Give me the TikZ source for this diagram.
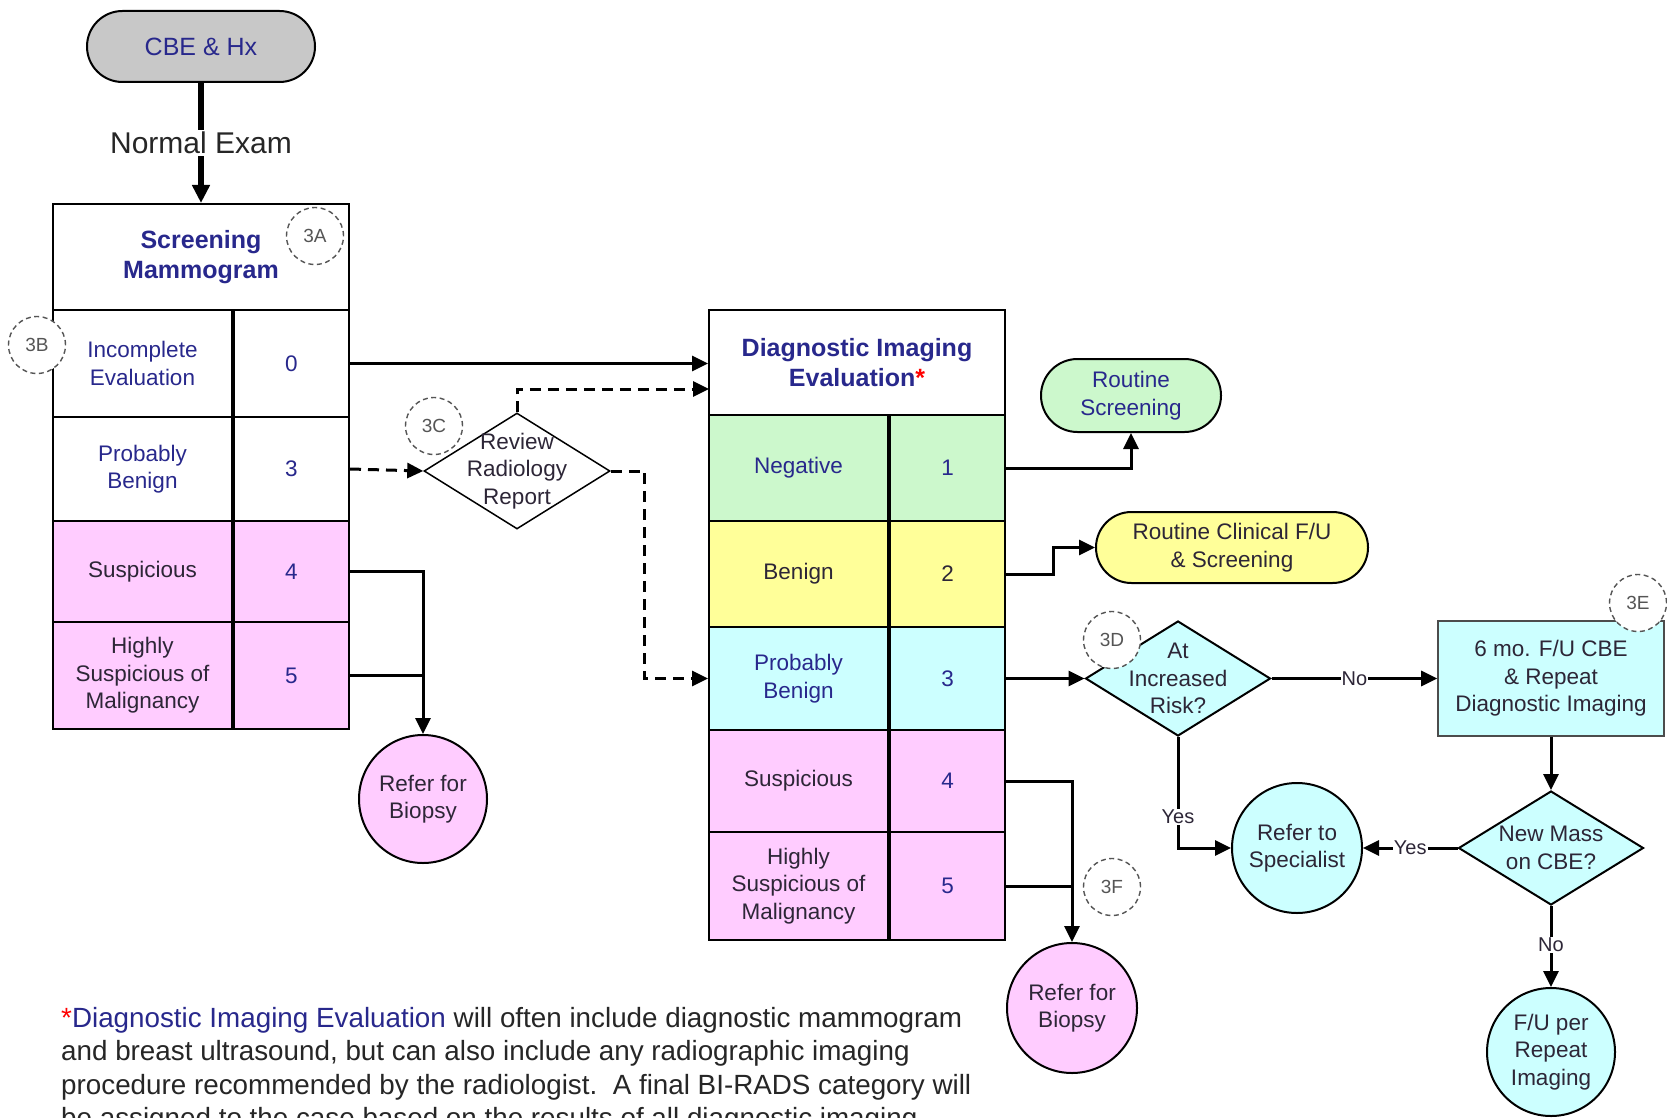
\documentclass[tikz,border=0pt]{standalone}
\usepackage{fontspec}
\setmainfont{Liberation Sans}
\usetikzlibrary{arrows.meta,shapes.geometric,shapes.misc,calc}
\definecolor{navy}{RGB}{40,40,140}
\definecolor{darktext}{RGB}{45,38,55}
\definecolor{pinkfill}{RGB}{255,204,255}
\definecolor{greenfill}{RGB}{204,248,204}
\definecolor{yellowfill}{RGB}{255,255,153}
\definecolor{cyanfill}{RGB}{204,255,255}
\definecolor{greyfill}{RGB}{200,200,200}
\definecolor{tagline}{RGB}{85,85,85}
\begin{document}
\begin{tikzpicture}[x=1pt,y=-1pt,
  txt/.style={font=\fontsize{22.5}{27.5}\selectfont, align=center, text=darktext},
  cell/.style={draw, line width=2pt, inner sep=0pt, txt},
  stad/.style={rounded rectangle, draw, line width=2pt, inner sep=0pt, txt},
  dia/.style={diamond, draw, line width=2pt, inner sep=0pt, fill=cyanfill},
  disc/.style={circle, draw, line width=2pt, inner sep=0pt, txt},
  tag/.style={circle, draw=tagline, dash pattern=on 5pt off 3.5pt, line width=1.4pt,
    fill=white, minimum size=57pt, inner sep=0pt, text=tagline,
    font=\fontsize{19}{19}\selectfont},
  line/.style={line width=3pt},
  conn/.style={line width=3pt, -{Triangle[length=16pt,width=15pt]}},
  dconn/.style={conn, dash pattern=on 11pt off 7pt},
  elbl/.style={fill=white, inner sep=1pt, text=darktext, font=\fontsize{20}{20}\selectfont},
  foot/.style={anchor=base west, inner sep=0pt, text=black!85,
    font=\fontsize{27.8}{33.5}\selectfont}
]
\useasboundingbox (0,0) rectangle (1667,1118);
\clip (0,0) rectangle (1667,1118);
\fill[white] (0,0) rectangle (1667,1118);

% ---------- start ----------
\node[stad, fill=greyfill, minimum width=228pt, minimum height=71pt, text=navy,
  font=\fontsize{25}{30}\selectfont] (cbe) at (201,46.5) {CBE \& Hx};

% ---------- screening mammogram table ----------
\node[cell, minimum width=296pt, minimum height=106pt, text=navy,
  font=\bfseries\fontsize{25}{30.5}\selectfont] (sh) at (201,257) {Screening\\Mammogram};
\node[cell, minimum width=179pt, minimum height=107pt, text=navy] (s0l) at (142.5,363.5) {Incomplete\\Evaluation};
\node[cell, minimum width=115pt, minimum height=107pt, text=navy] (s0r) at (291.5,363.5) {0};
\node[cell, minimum width=179pt, minimum height=104pt, text=navy] (s3l) at (142.5,469) {Probably\\Benign};
\node[cell, minimum width=115pt, minimum height=104pt, text=navy] (s3r) at (291.5,469) {3};
\node[cell, fill=pinkfill, minimum width=179pt, minimum height=101pt] (s4l) at (142.5,571.5) {Suspicious};
\node[cell, fill=pinkfill, minimum width=115pt, minimum height=101pt, text=navy] (s4r) at (291.5,571.5) {4};
\node[cell, fill=pinkfill, minimum width=179pt, minimum height=107pt] (s5l) at (142.5,675.5) {Highly\\Suspicious of\\Malignancy};
\node[cell, fill=pinkfill, minimum width=115pt, minimum height=107pt, text=navy] (s5r) at (291.5,675.5) {5};

% ---------- review step ----------
\node[dia, fill=white, line width=1.5pt, minimum width=186pt, minimum height=116pt] (rev) at (517,471) {};
\node[txt] (revt) at (rev.center) {Review\\Radiology\\Report};

% ---------- diagnostic imaging table ----------
\node[cell, minimum width=296pt, minimum height=105pt, text=navy,
  font=\bfseries\fontsize{25}{30}\selectfont] (dh) at (857,362.5)
  {Diagnostic Imaging\\Evaluation{\color{red}*}};
\node[cell, fill=greenfill, minimum width=179pt, minimum height=106pt, text=navy] (d1l) at (798.5,468) {Negative};
\node[cell, fill=greenfill, minimum width=115pt, minimum height=106pt, text=navy] (d1r) at (947.5,468) {1};
\node[cell, fill=yellowfill, minimum width=179pt, minimum height=106pt] (d2l) at (798.5,574) {Benign};
\node[cell, fill=yellowfill, minimum width=115pt, minimum height=106pt] (d2r) at (947.5,574) {2};
\node[cell, fill=cyanfill, minimum width=179pt, minimum height=103pt, text=navy] (d3l) at (798.5,678.5) {Probably\\Benign};
\node[cell, fill=cyanfill, minimum width=115pt, minimum height=103pt, text=navy] (d3r) at (947.5,678.5) {3};
\node[cell, fill=pinkfill, minimum width=179pt, minimum height=102pt] (d4l) at (798.5,781) {Suspicious};
\node[cell, fill=pinkfill, minimum width=115pt, minimum height=102pt, text=navy] (d4r) at (947.5,781) {4};
\node[cell, fill=pinkfill, minimum width=179pt, minimum height=108pt] (d5l) at (798.5,886) {Highly\\Suspicious of\\Malignancy};
\node[cell, fill=pinkfill, minimum width=115pt, minimum height=108pt, text=navy] (d5r) at (947.5,886) {5};

% ---------- outcomes ----------
\node[stad, fill=greenfill, minimum width=180pt, minimum height=73pt, text=navy] (rs) at (1131,395.5) {Routine\\Screening};
\node[stad, fill=yellowfill, minimum width=272pt, minimum height=71pt] (rc) at (1232,547.5) {Routine Clinical F/U\\\& Screening};
\node[dia, minimum width=185pt, minimum height=115pt] (risk) at (1178,678.5) {};
\node[txt] (riskt) at (risk.center) {At\\Increased\\Risk?};
\node[cell, fill=cyanfill, draw=black!70, line width=1.6pt, minimum width=226pt, minimum height=115pt] (fu) at (1551,678.5)
  {6 mo. F/U CBE\\\& Repeat\\Diagnostic Imaging};
\node[dia, minimum width=185pt, minimum height=114pt] (nm) at (1551,848) {};
\node[txt] (nmt) at (nm.center) {New Mass\\on CBE?};
\node[disc, fill=cyanfill, minimum size=130pt] (spec) at (1297,848) {Refer to\\Specialist};
\node[disc, fill=cyanfill, minimum size=128pt] (fur) at (1551,1052) {F/U per\\Repeat\\Imaging};
\node[disc, fill=pinkfill, minimum size=128pt] (bio1) at (423,799) {Refer for\\Biopsy};
\node[disc, fill=pinkfill, minimum size=130pt] (bio2) at (1072,1008) {Refer for\\Biopsy};

% ---------- connectors ----------
\draw[line width=5.5pt, -{Triangle[length=18pt,width=17pt]}] (cbe.south) --
  node[fill=white, inner sep=2pt, text=black!85, font=\fontsize{30}{30}\selectfont] (ne) {Normal Exam} (sh.north);
\draw[conn] (s0r.east) -- (s0r.east -| dh.west);
\draw[dconn] (s3r.east) -- (rev.west);
\coordinate (dhin) at (709,389);
\draw[dconn] (rev.north) |- (dhin);
\draw[dconn] (rev.east) -- ++(34,0) |- (d3l.west);
\draw[conn] (s4r.east) -| (bio1.north);
\draw[line] (s5r.east) -- (s5r.east -| bio1.north);

\draw[conn] (d1r.east) -| (rs.south);
\draw[conn] (d2r.east) -- ++(47,0) |- (rc.west);
\draw[conn] (d3r.east) -- (risk.west);
\draw[conn] (risk.east) -- node[elbl] (no1) {No} (fu.west);
\draw[conn] (risk.south) |- node[elbl, pos=0.36] (yes1) {Yes} (spec.west);
\draw[conn] (fu.south) -- (nm.north);
\draw[conn] (nm.west) -- node[elbl] (yes2) {Yes} (spec.east);
\draw[conn] (nm.south) -- node[elbl, pos=0.48] (no2) {No} (fur.north);
\draw[conn] (d4r.east) -| (bio2.north);
\draw[line] (d5r.east) -- (d5r.east -| bio2.north);

% ---------- reference tags ----------
\node[tag] (t3a) at (315,236) {3A};
\node[tag] (t3b) at (37,345) {3B};
\node[tag] (t3c) at (434,426) {3C};
\node[tag] (t3d) at (1112,640) {3D};
\node[tag] (t3e) at (1638,603) {3E};
\node[tag] (t3f) at (1112,887) {3F};

% ---------- footnote ----------
\node[foot] (fn1) at (61,1027) {{\color{red}*}{\color{navy}Diagnostic Imaging Evaluation} will often include diagnostic mammogram};
\node[foot] (fn2) at (61,1060.5) {and breast ultrasound, but can also include any radiographic imaging};
\node[foot] (fn3) at (61,1094) {procedure recommended by the radiologist.\ \ A final BI-RADS category will};
\node[foot] (fn4) at (61,1127.5) {be assigned to the case based on the results of all diagnostic imaging};
\end{tikzpicture}
\end{document}
